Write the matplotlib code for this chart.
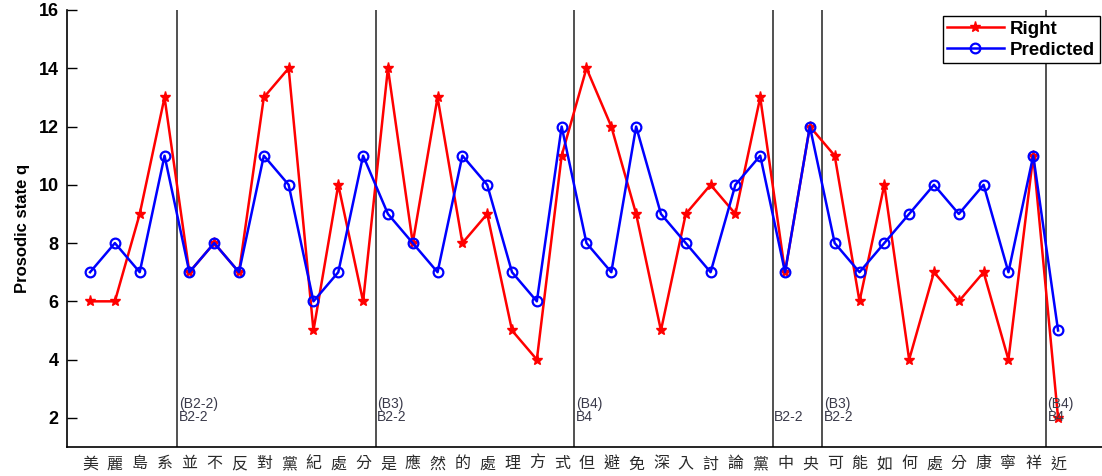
import matplotlib
matplotlib.use("Agg")
import matplotlib.pyplot as plt

plt.rcParams['font.family'] = ['Liberation Sans', 'DejaVu Sans']

# Characters of the sentence, one per syllable position
chars = list("美麗島系並不反對黨紀處分是應然的處理方式但避免深入討論黨中央可能如何處分康寧祥近")

# Prosodic state per syllable
right_q = [6, 6, 9, 13, 7, 8, 7, 13, 14, 5, 10, 6, 14, 8, 13, 8, 9, 5, 4, 11,
           14, 12, 9, 5, 9, 10, 9, 13, 7, 12, 11, 6, 10, 4, 7, 6, 7, 4, 11, 2]
pred_q = [7, 8, 7, 11, 7, 8, 7, 11, 10, 6, 7, 11, 9, 8, 7, 11, 10, 7, 6, 12,
          8, 7, 12, 9, 8, 7, 10, 11, 7, 12, 8, 7, 8, 9, 10, 9, 10, 7, 11, 5]

# Break boundaries (after syllable index) and their labels
boundary_pos = [4.5, 12.5, 20.5, 28.5, 30.5, 39.5]
boundary_labels = ["(B2-2)\nB2-2", "(B3)\nB2-2", "(B4)\nB4", "B2-2", "(B3)\nB2-2", "(B4)\nB4"]

x = list(range(1, len(chars) + 1))

fig = plt.figure(figsize=(11.02, 4.76), dpi=100)
ax = fig.add_axes([67 / 1102, 29 / 476, 1035 / 1102, 437 / 476])

for bx in boundary_pos:
    ax.axvline(bx, color='#333333', lw=1.2, zorder=1)

ax.plot(x, right_q, color='#ff0000', lw=1.8, marker='*', ms=8,
        mec='#ff0000', mfc='#ff0000', label='Right', zorder=3)
ax.plot(x, pred_q, color='#0000ff', lw=1.8, marker='o', ms=7,
        mfc='none', mec='#0000ff', mew=1.6, label='Predicted', zorder=4)

for bx, lab in zip(boundary_pos, boundary_labels):
    ax.text(bx + 0.07, 1.78, lab, fontsize=10, color='#3a3a4a',
            ha='left', va='bottom', linespacing=0.95, zorder=5)

ax.set_xlim(0.07, 41.77)
ax.set_ylim(1, 16)
ax.set_yticks([2, 4, 6, 8, 10, 12, 14, 16])
ax.set_xticks(x)
ax.set_xticklabels(chars, family=['Noto Sans CJK TC', 'DejaVu Sans'],
                   fontsize=11.5, color='#2a2a2a')
ax.tick_params(axis='x', length=0, pad=6)
ax.tick_params(axis='y', direction='in', length=7, width=1, pad=6,
               labelsize=13)
for lab in ax.get_yticklabels():
    lab.set_fontweight('bold')

ax.spines['top'].set_visible(False)
ax.spines['right'].set_visible(False)
ax.spines['left'].set_linewidth(1.2)
ax.spines['bottom'].set_linewidth(1.2)

ax.set_ylabel('Prosodic state q', fontsize=12, fontweight='bold', labelpad=6)

leg = ax.legend(loc='upper right', bbox_to_anchor=(0.998, 0.986),
                borderaxespad=0, fancybox=False, edgecolor='black',
                framealpha=1, handlelength=3.0, handletextpad=0.35,
                borderpad=0.25, labelspacing=0.2,
                prop={'weight': 'bold', 'size': 13.5})
leg.get_frame().set_linewidth(1.0)

fig.savefig('out.png', dpi=100)
